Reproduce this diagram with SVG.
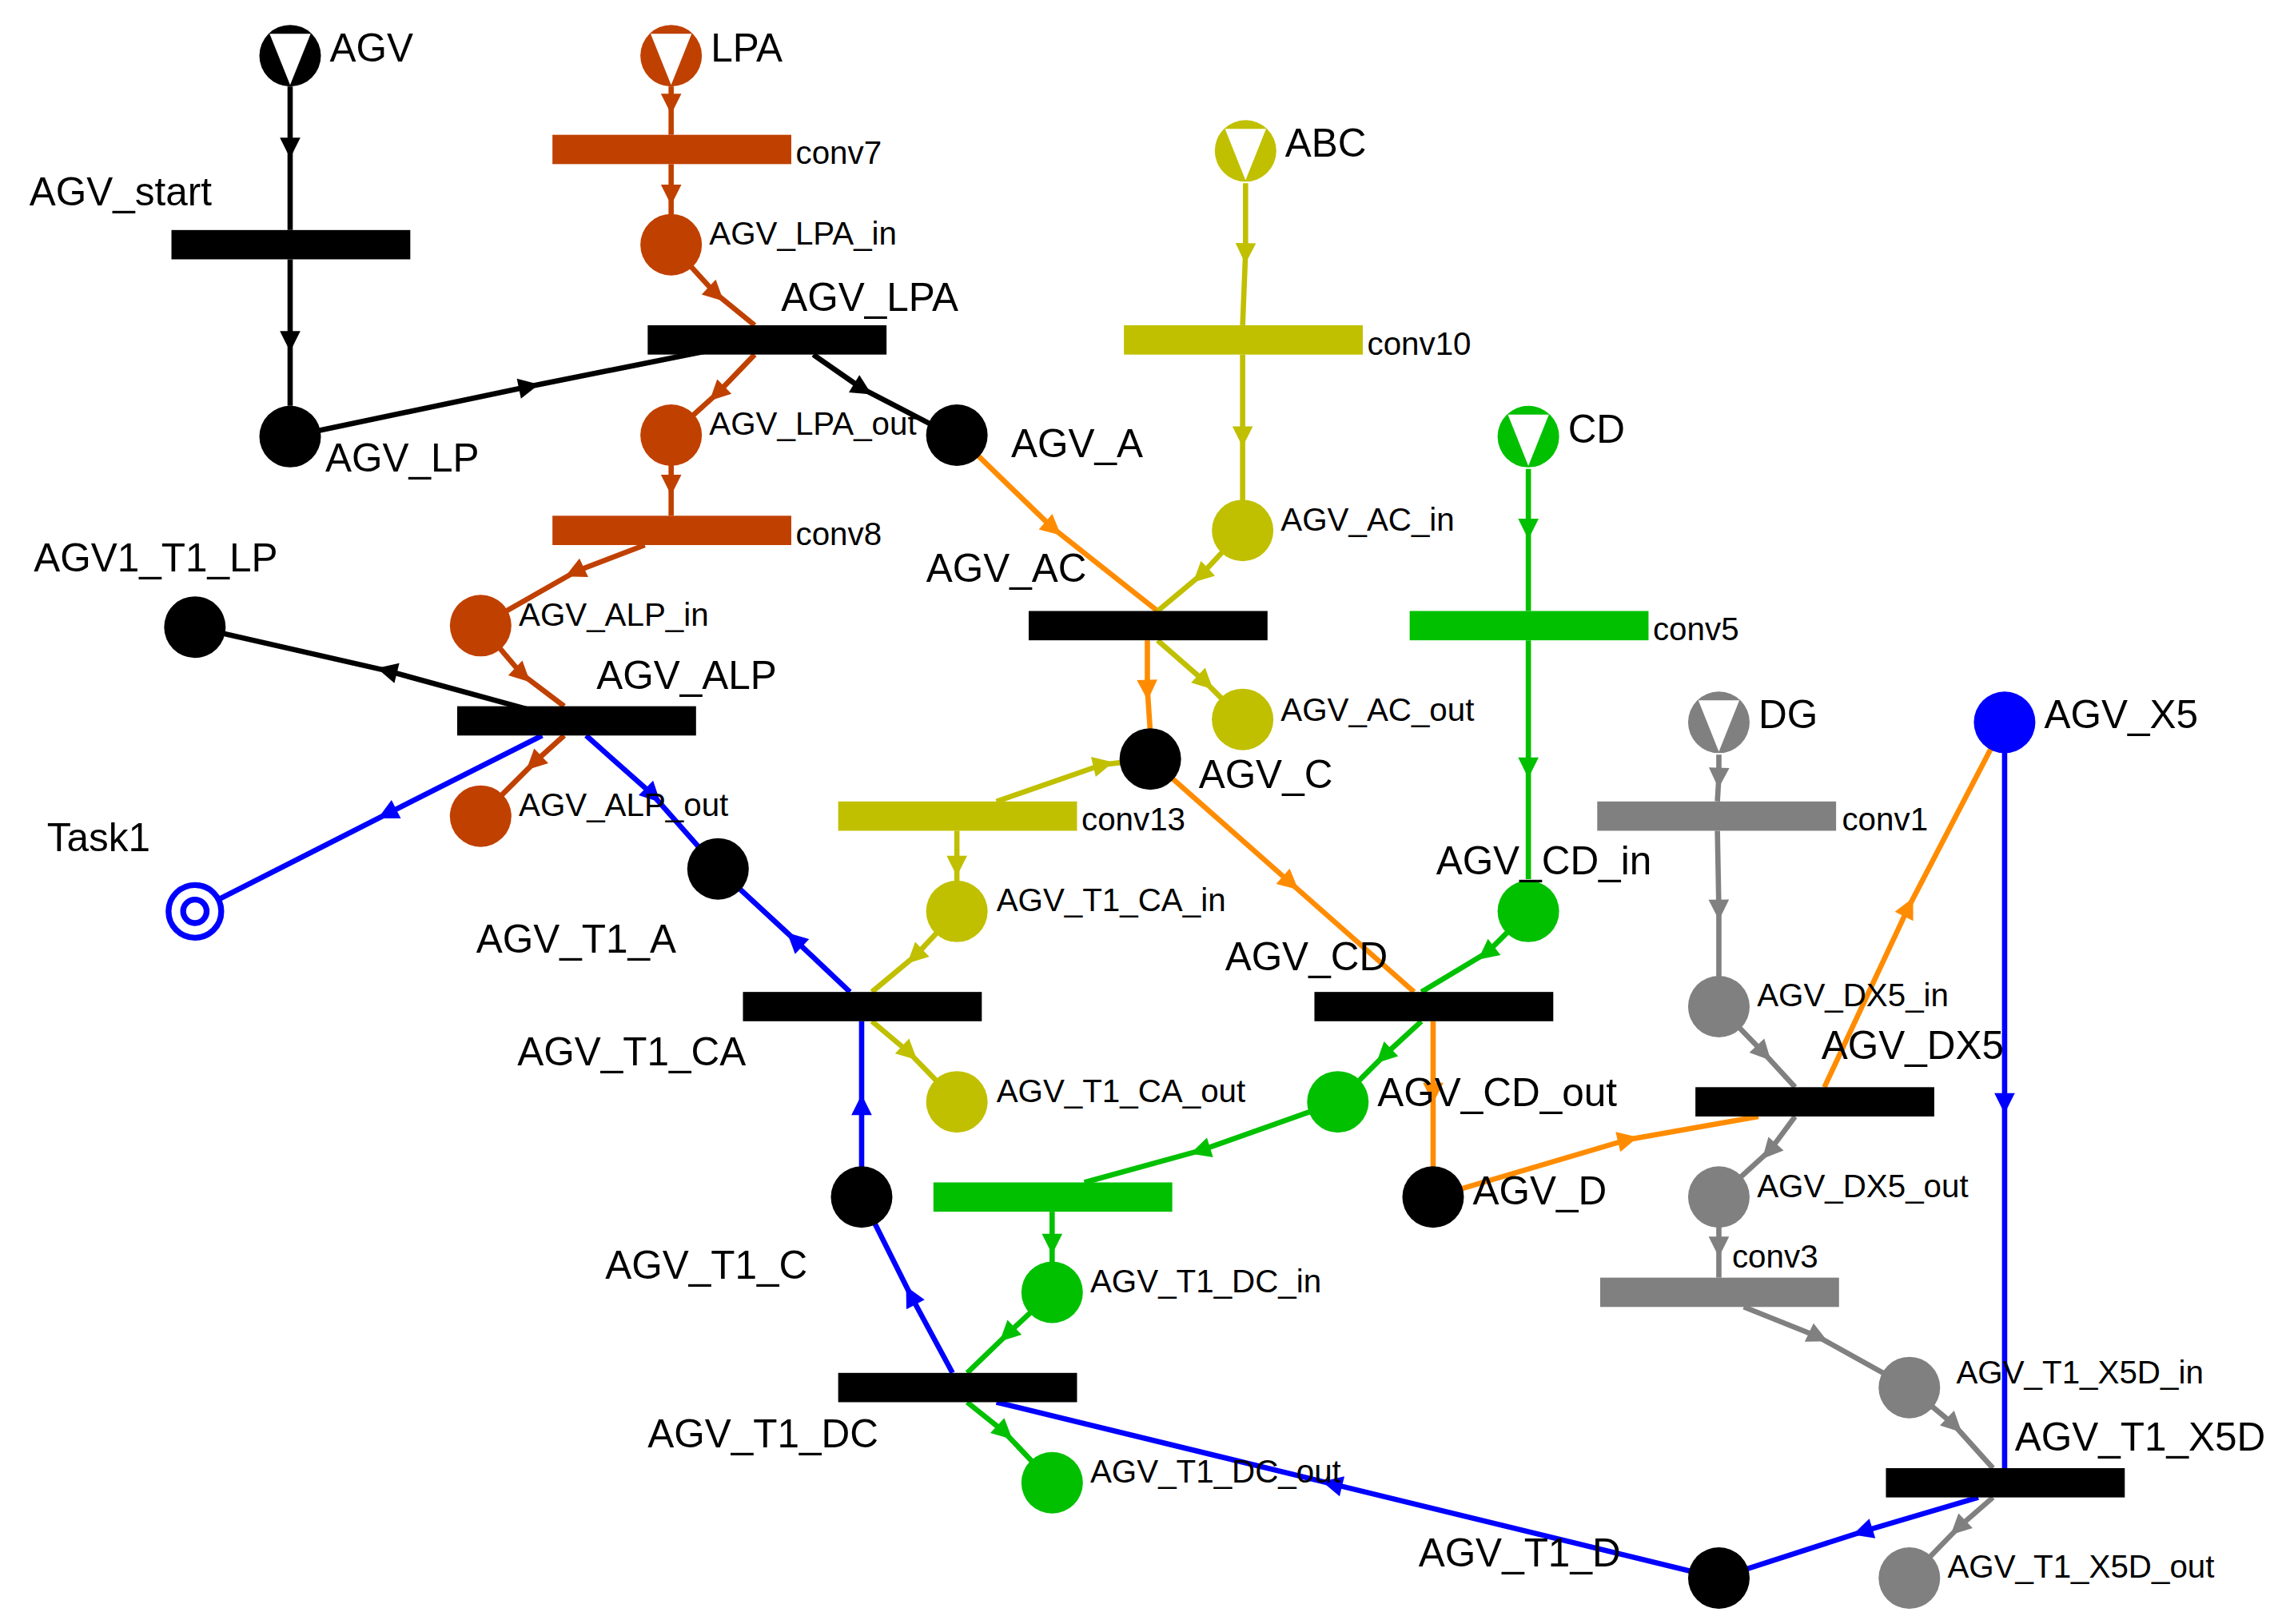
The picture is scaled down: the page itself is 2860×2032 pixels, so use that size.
<svg xmlns="http://www.w3.org/2000/svg" width="2860" height="2032" viewBox="0 0 2860 2032">
<style>
text{font-family:"Liberation Sans",Arial,sans-serif;fill:#000}
.b{font-size:27px}.s{font-size:22px}
.e{fill:none;stroke-width:3.6}
.k{stroke:#000}.r{stroke:#c04000}.o{stroke:#ff8c00}.y{stroke:#c0c000}.g{stroke:#00c000}.a{stroke:#808080}.u{stroke:#0000ff}
</style>
<defs>
<marker id="mk" viewBox="-8 -8 16 16" markerWidth="16" markerHeight="16" markerUnits="userSpaceOnUse" orient="auto"><path d="M-6,-7 L8,0 L-6,7 Z" fill="#000"/></marker>
<marker id="mr" viewBox="-8 -8 16 16" markerWidth="16" markerHeight="16" markerUnits="userSpaceOnUse" orient="auto"><path d="M-6,-7 L8,0 L-6,7 Z" fill="#c04000"/></marker>
<marker id="mo" viewBox="-8 -8 16 16" markerWidth="16" markerHeight="16" markerUnits="userSpaceOnUse" orient="auto"><path d="M-6,-7 L8,0 L-6,7 Z" fill="#ff8c00"/></marker>
<marker id="my" viewBox="-8 -8 16 16" markerWidth="16" markerHeight="16" markerUnits="userSpaceOnUse" orient="auto"><path d="M-6,-7 L8,0 L-6,7 Z" fill="#c0c000"/></marker>
<marker id="mg" viewBox="-8 -8 16 16" markerWidth="16" markerHeight="16" markerUnits="userSpaceOnUse" orient="auto"><path d="M-6,-7 L8,0 L-6,7 Z" fill="#00c000"/></marker>
<marker id="ma" viewBox="-8 -8 16 16" markerWidth="16" markerHeight="16" markerUnits="userSpaceOnUse" orient="auto"><path d="M-6,-7 L8,0 L-6,7 Z" fill="#808080"/></marker>
<marker id="mu" viewBox="-8 -8 16 16" markerWidth="16" markerHeight="16" markerUnits="userSpaceOnUse" orient="auto"><path d="M-6,-7 L8,0 L-6,7 Z" fill="#0000ff"/></marker>
</defs>
<rect width="2860" height="2032" fill="#fff"/>
<g transform="scale(1.8333)">
<g id="connectors">
<path class="e k" marker-mid="url(#mk)" d="M198,59 L198,100 L198,157"/>
<path class="e k" marker-mid="url(#mk)" d="M198,177 L198,232 L198,277"/>
<path class="e k" marker-mid="url(#mk)" d="M198,298 L360,264 L480,240"/>
<path class="e k" marker-mid="url(#mk)" d="M555,242 L588,265 L640,292"/>
<path class="e k" marker-mid="url(#mk)" d="M360,484 L265,458 L133,428"/>
<path class="e r" marker-mid="url(#mr)" d="M458,59 L458,70 L458,92"/>
<path class="e r" marker-mid="url(#mr)" d="M458,112 L458,132 L458,150"/>
<path class="e r" marker-mid="url(#mr)" d="M458,167 L488,200 L515,222"/>
<path class="e r" marker-mid="url(#mr)" d="M515,242 L490,268 L458,297"/>
<path class="e r" marker-mid="url(#mr)" d="M458,297 L458,330 L458,352"/>
<path class="e r" marker-mid="url(#mr)" d="M440,372 L393,390 L328,427"/>
<path class="e r" marker-mid="url(#mr)" d="M328,427 L356,460 L385,482"/>
<path class="e r" marker-mid="url(#mr)" d="M385,502 L365,520 L328,557"/>
<path class="e o" marker-mid="url(#mo)" d="M653,297 L718,360 L790,417"/>
<path class="e o" marker-mid="url(#mo)" d="M783,437 L783,470 L785,500"/>
<path class="e o" marker-mid="url(#mo)" d="M785,518 L880,602 L965,677"/>
<path class="e o" marker-mid="url(#mo)" d="M978,697 L978,745 L978,817"/>
<path class="e o" marker-mid="url(#mo)" d="M978,817 L1110,778 L1200,762"/>
<path class="e o" marker-mid="url(#mo)" d="M1245,742 L1302,620 L1368,493"/>
<path class="e y" marker-mid="url(#my)" d="M850,125 L850,172 L848,222"/>
<path class="e y" marker-mid="url(#my)" d="M848,242 L848,297 L848,362"/>
<path class="e y" marker-mid="url(#my)" d="M848,362 L820,392 L790,417"/>
<path class="e y" marker-mid="url(#my)" d="M790,437 L822,465 L848,491"/>
<path class="e y" marker-mid="url(#my)" d="M680,547 L752,522 L785,518"/>
<path class="e y" marker-mid="url(#my)" d="M653,567 L653,590 L653,622"/>
<path class="e y" marker-mid="url(#my)" d="M653,622 L625,652 L595,677"/>
<path class="e y" marker-mid="url(#my)" d="M595,697 L620,718 L653,752"/>
<path class="e g" marker-mid="url(#mg)" d="M1043,320 L1043,360 L1043,417"/>
<path class="e g" marker-mid="url(#mg)" d="M1043,437 L1043,523 L1043,600"/>
<path class="e g" marker-mid="url(#mg)" d="M1043,622 L1015,650 L970,677"/>
<path class="e g" marker-mid="url(#mg)" d="M970,697 L945,720 L913,752"/>
<path class="e g" marker-mid="url(#mg)" d="M913,752 L820,785 L740,807"/>
<path class="e g" marker-mid="url(#mg)" d="M718,827 L718,848 L718,882"/>
<path class="e g" marker-mid="url(#mg)" d="M718,882 L688,910 L660,937"/>
<path class="e g" marker-mid="url(#mg)" d="M660,957 L685,977 L718,1012"/>
<path class="e a" marker-mid="url(#ma)" d="M1173,515 L1173,530 L1172,547"/>
<path class="e a" marker-mid="url(#ma)" d="M1172,567 L1173,620 L1173,687"/>
<path class="e a" marker-mid="url(#ma)" d="M1173,687 L1203,718 L1225,742"/>
<path class="e a" marker-mid="url(#ma)" d="M1225,762 L1208,785 L1173,817"/>
<path class="e a" marker-mid="url(#ma)" d="M1173,817 L1173,850 L1173,872"/>
<path class="e a" marker-mid="url(#ma)" d="M1190,892 L1240,912 L1303,947"/>
<path class="e a" marker-mid="url(#ma)" d="M1303,947 L1333,972 L1360,1002"/>
<path class="e a" marker-mid="url(#ma)" d="M1360,1022 L1337,1042 L1303,1077"/>
<path class="e u" marker-mid="url(#mu)" d="M1368,493 L1368,752 L1368,1002"/>
<path class="e u" marker-mid="url(#mu)" d="M1350,1022 L1272,1045 L1173,1077"/>
<path class="e u" marker-mid="url(#mu)" d="M1173,1077 L910,1013 L680,957"/>
<path class="e u" marker-mid="url(#mu)" d="M650,937 L622,885 L588,817"/>
<path class="e u" marker-mid="url(#mu)" d="M588,817 L588,755 L588,697"/>
<path class="e u" marker-mid="url(#mu)" d="M580,677 L543,642 L490,593"/>
<path class="e u" marker-mid="url(#mu)" d="M400,502 L445,542 L490,593"/>
<path class="e u" marker-mid="url(#mu)" d="M370,502 L265,555 L145,616"/>
</g>
<g id="AGV"><circle cx="198" cy="38" r="21"/><path d="M184,23 L212,23 L198,58 Z" fill="#fff"/><text class="b" x="225" y="42">AGV</text></g>
<g id="LPA"><circle cx="458" cy="38" r="21" fill="#c04000"/><path d="M444,23 L472,23 L458,58 Z" fill="#fff"/><text class="b" x="485" y="42">LPA</text></g>
<g id="ABC"><circle cx="850" cy="103" r="21" fill="#c0c000"/><path d="M836,88 L864,88 L850,123 Z" fill="#fff"/><text class="b" x="877" y="107">ABC</text></g>
<g id="CD"><circle cx="1043" cy="298" r="21" fill="#00c000"/><path d="M1029,283 L1057,283 L1043,318 Z" fill="#fff"/><text class="b" x="1070" y="302">CD</text></g>
<g id="DG"><circle cx="1173" cy="493" r="21" fill="#808080"/><path d="M1159,478 L1187,478 L1173,513 Z" fill="#fff"/><text class="b" x="1200" y="497">DG</text></g>
<g id="AGV_X5"><circle cx="1368" cy="493" r="21" fill="#0000ff"/><text class="b" x="1395" y="497">AGV_X5</text></g>
<g id="AGV_LP"><circle cx="198" cy="298" r="21"/><text class="b" x="222" y="322">AGV_LP</text></g>
<g id="AGV_LPA_in"><circle cx="458" cy="167" r="21" fill="#c04000"/><text class="s" x="484" y="167">AGV_LPA_in</text></g>
<g id="AGV_LPA_out"><circle cx="458" cy="297" r="21" fill="#c04000"/><text class="s" x="484" y="297">AGV_LPA_out</text></g>
<g id="AGV_A"><circle cx="653" cy="297" r="21"/><text class="b" x="690" y="312">AGV_A</text></g>
<g id="AGV1_T1_LP"><circle cx="133" cy="428" r="21"/><text class="b" x="23" y="390">AGV1_T1_LP</text></g>
<g id="AGV_ALP_in"><circle cx="328" cy="427" r="21" fill="#c04000"/><text class="s" x="354" y="427">AGV_ALP_in</text></g>
<g id="AGV_ALP_out"><circle cx="328" cy="557" r="21" fill="#c04000"/><text class="s" x="354" y="557">AGV_ALP_out</text></g>
<g id="Task1"><circle cx="133" cy="622" r="18" fill="#fff" stroke="#0000ff" stroke-width="4"/><circle cx="133" cy="622" r="8" fill="#fff" stroke="#0000ff" stroke-width="4"/><text class="b" x="32" y="581">Task1</text></g>
<g id="AGV_T1_A"><circle cx="490" cy="593" r="21"/><text class="b" x="325" y="650">AGV_T1_A</text></g>
<g id="AGV_AC_in"><circle cx="848" cy="362" r="21" fill="#c0c000"/><text class="s" x="874" y="362">AGV_AC_in</text></g>
<g id="AGV_AC_out"><circle cx="848" cy="491" r="21" fill="#c0c000"/><text class="s" x="874" y="492">AGV_AC_out</text></g>
<g id="AGV_C"><circle cx="785" cy="518" r="21"/><text class="b" x="818" y="538">AGV_C</text></g>
<g id="AGV_T1_CA_in"><circle cx="653" cy="622" r="21" fill="#c0c000"/><text class="s" x="680" y="622">AGV_T1_CA_in</text></g>
<g id="AGV_T1_CA_out"><circle cx="653" cy="752" r="21" fill="#c0c000"/><text class="s" x="680" y="752">AGV_T1_CA_out</text></g>
<g id="AGV_CD_in"><circle cx="1043" cy="622" r="21" fill="#00c000"/><text class="b" x="980" y="597">AGV_CD_in</text></g>
<g id="AGV_CD_out"><circle cx="913" cy="752" r="21" fill="#00c000"/><text class="b" x="940" y="755">AGV_CD_out</text></g>
<g id="AGV_D"><circle cx="978" cy="817" r="21"/><text class="b" x="1005" y="822">AGV_D</text></g>
<g id="AGV_T1_C"><circle cx="588" cy="817" r="21"/><text class="b" x="413" y="873">AGV_T1_C</text></g>
<g id="AGV_T1_DC_in"><circle cx="718" cy="882" r="21" fill="#00c000"/><text class="s" x="744" y="882">AGV_T1_DC_in</text></g>
<g id="AGV_T1_DC_out"><circle cx="718" cy="1012" r="21" fill="#00c000"/><text class="s" x="744" y="1012">AGV_T1_DC_out</text></g>
<g id="AGV_DX5_in"><circle cx="1173" cy="687" r="21" fill="#808080"/><text class="s" x="1199" y="687">AGV_DX5_in</text></g>
<g id="AGV_DX5_out"><circle cx="1173" cy="817" r="21" fill="#808080"/><text class="s" x="1199" y="817">AGV_DX5_out</text></g>
<g id="AGV_T1_X5D_in"><circle cx="1303" cy="947" r="21" fill="#808080"/><text class="s" x="1335" y="944">AGV_T1_X5D_in</text></g>
<g id="AGV_T1_X5D_out"><circle cx="1303" cy="1077" r="21" fill="#808080"/><text class="s" x="1329" y="1077">AGV_T1_X5D_out</text></g>
<g id="AGV_T1_D"><circle cx="1173" cy="1077" r="21"/><text class="b" x="968" y="1069">AGV_T1_D</text></g>
<g id="AGV_start"><rect x="117" y="157" width="163" height="20"/><text class="b" x="20" y="140">AGV_start</text></g>
<g id="conv7"><rect x="377" y="92" width="163" height="20" fill="#c04000"/><text class="s" x="543" y="112">conv7</text></g>
<g id="AGV_LPA"><rect x="442" y="222" width="163" height="20"/><text class="b" x="533" y="212">AGV_LPA</text></g>
<g id="conv8"><rect x="377" y="352" width="163" height="20" fill="#c04000"/><text class="s" x="543" y="372">conv8</text></g>
<g id="conv10"><rect x="767" y="222" width="163" height="20" fill="#c0c000"/><text class="s" x="933" y="242">conv10</text></g>
<g id="AGV_AC"><rect x="702" y="417" width="163" height="20"/><text class="b" x="632" y="397">AGV_AC</text></g>
<g id="conv5"><rect x="962" y="417" width="163" height="20" fill="#00c000"/><text class="s" x="1128" y="437">conv5</text></g>
<g id="AGV_ALP"><rect x="312" y="482" width="163" height="20"/><text class="b" x="407" y="470">AGV_ALP</text></g>
<g id="conv13"><rect x="572" y="547" width="163" height="20" fill="#c0c000"/><text class="s" x="738" y="567">conv13</text></g>
<g id="conv1"><rect x="1090" y="547" width="163" height="20" fill="#808080"/><text class="s" x="1257" y="567">conv1</text></g>
<g id="AGV_T1_CA"><rect x="507" y="677" width="163" height="20"/><text class="b" x="353" y="727">AGV_T1_CA</text></g>
<g id="AGV_CD"><rect x="897" y="677" width="163" height="20"/><text class="b" x="836" y="662">AGV_CD</text></g>
<g id="AGV_DX5"><rect x="1157" y="742" width="163" height="20"/><text class="b" x="1243" y="723">AGV_DX5</text></g>
<g id="conv_green"><rect x="637" y="807" width="163" height="20" fill="#00c000"/></g>
<g id="conv3"><rect x="1092" y="872" width="163" height="20" fill="#808080"/><text class="s" x="1182" y="865">conv3</text></g>
<g id="AGV_T1_DC"><rect x="572" y="937" width="163" height="20"/><text class="b" x="442" y="988">AGV_T1_DC</text></g>
<g id="AGV_T1_X5D"><rect x="1287" y="1002" width="163" height="20"/><text class="b" x="1375" y="990">AGV_T1_X5D</text></g>
</g>
</svg>
